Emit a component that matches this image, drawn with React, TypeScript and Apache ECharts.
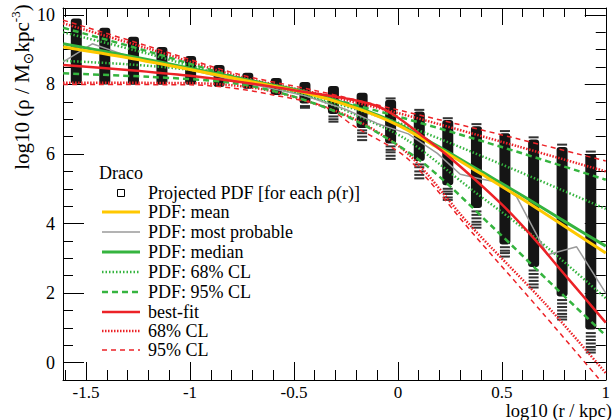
import React, { useEffect, useRef } from 'react';
import * as echarts from 'echarts';

// ---------- data ----------
const columnsX = [-1.547, -1.41, -1.272, -1.135, -0.997, -0.86, -0.722, -0.585, -0.447, -0.31, -0.172, -0.035, 0.103, 0.24, 0.378, 0.515, 0.653, 0.79, 0.928];
const coreTop = [9.9, 9.63, 9.37, 9.08, 8.82, 8.56, 8.34, 8.19, 8.07, 7.96, 7.76, 7.56, 7.22, 6.98, 6.8, 6.6, 6.42, 6.2, 6.0];
const coreBottom = [8.02, 8.0, 7.99, 7.99, 7.99, 7.93, 7.88, 7.7, 7.45, 7.15, 6.75, 6.3, 5.8, 5.1, 4.45, 3.4, 2.75, 1.9, 0.95];
const tailTicks: number[][] = [
  [], [], [], [], [], [], [], [],
  [7.38, 7.33],
  [7.08, 7.0, 6.93],
  [6.68, 6.6, 6.5, 6.4],
  [7.6, 6.22, 6.12, 6.05, 5.95, 5.86],
  [7.27, 5.7, 5.62, 5.5, 5.4, 5.3],
  [7.03, 5.0, 4.92, 4.85, 4.75, 4.68],
  [6.86, 4.35, 4.25, 4.15, 4.05, 3.97, 3.88],
  [6.66, 3.32, 3.22, 3.15, 3.05],
  [6.48, 2.65, 2.55, 2.45, 2.35, 2.25, 2.16],
  [6.27, 1.8, 1.7, 1.6, 1.5, 1.4, 1.32, 1.24],
  [6.07, 0.85, 0.75, 0.65, 0.55, 0.45, 0.37, 0.29],
];

const smoothX = [-1.61, -1.3, -1.0, -0.7, -0.45, -0.2, 0.0, 0.2, 0.4, 0.6, 0.8, 1.0];
const medianY = [9.17, 8.83, 8.47, 8.1, 7.8, 7.35, 6.87, 6.2, 5.5, 4.8, 4.07, 3.35];
const meanY = [9.08, 8.77, 8.43, 8.07, 7.77, 7.32, 6.83, 6.15, 5.43, 4.7, 3.93, 3.15];

const mostProbX = [-1.61, -1.47, -1.28, -1.0, -0.7, -0.45, -0.25, -0.1, 0.05, 0.19, 0.3, 0.4, 0.47, 0.57, 0.67, 0.72, 0.86, 1.0];
const mostProbY = [8.65, 9.17, 8.78, 8.42, 8.0, 7.68, 7.28, 6.88, 6.58, 6.02, 5.42, 5.28, 5.2, 4.78, 3.65, 3.1, 3.33, 2.0];

const bestFitX = [-1.61, -1.3, -1.0, -0.7, -0.4, -0.25, -0.1, 0.0, 0.1, 0.25, 0.5, 0.65, 0.8, 0.9, 1.0];
const bestFitY = [8.56, 8.42, 8.25, 8.02, 7.74, 7.6, 7.38, 7.05, 6.6, 5.9, 4.55, 3.6, 2.55, 1.85, 1.15];

const upperX = [-1.61, -1.2, -0.77, -0.4, 0.0, 0.5, 1.0];
const pdf68UpperY = [9.5, 8.88, 8.15, 7.62, 6.9, 5.7, 4.42];
const pdf95UpperY = [9.63, 8.95, 8.2, 7.7, 7.08, 6.2, 5.26];
const cl68UpperY = [9.76, 9.03, 8.24, 7.76, 7.18, 6.35, 5.5];
const cl95UpperY = [9.85, 9.1, 8.3, 7.83, 7.27, 6.55, 5.8];

const pdf68LowerX = [-1.61, -1.3, -1.0, -0.7, -0.4, -0.2, 0.04, 0.35, 0.67, 1.0];
const pdf68LowerY = [8.68, 8.58, 8.42, 8.1, 7.6, 7.12, 6.42, 5.0, 3.55, 1.85];
const pdf95LowerX = [-1.61, -1.2, -0.8, -0.5, -0.2, 0.12, 0.47, 0.75, 1.0];
const pdf95LowerY = [8.32, 8.22, 8.05, 7.65, 6.95, 5.75, 3.82, 2.2, 0.78];
const cl68LowerX = [-1.61, -1.0, -0.8, -0.6, -0.4, -0.2, 0.05, 0.34, 0.7, 1.0];
const cl68LowerY = [8.05, 8.04, 7.98, 7.8, 7.45, 6.98, 6.0, 4.0, 1.75, -0.3];
const cl95LowerX = [-1.61, -1.0, -0.8, -0.6, -0.35, -0.21, 0.05, 0.36, 0.7, 1.0];
const cl95LowerY = [8.0, 7.99, 7.9, 7.7, 7.36, 6.8, 5.85, 3.72, 1.4, -0.7];

const xMajorTicks = [-1.5, -1, -0.5, 0, 0.5, 1];
const xMinorTicks = [-1.6, -1.4, -1.3, -1.2, -1.1, -0.9, -0.8, -0.7, -0.6, -0.4, -0.3, -0.2, -0.1, 0.1, 0.2, 0.3, 0.4, 0.6, 0.7, 0.8, 0.9];
const yMajorTicks = [0, 2, 4, 6, 8, 10];
const yMinorTicks = [0.5, 1, 1.5, 2.5, 3, 3.5, 4.5, 5, 5.5, 6.5, 7, 7.5, 8.5, 9, 9.5];

const legendTitle = 'Draco';
const legendLabels = [
  'Projected PDF [for each ρ(r)]',
  'PDF: mean',
  'PDF: most probable',
  'PDF: median',
  'PDF: 68% CL',
  'PDF: 95% CL',
  'best-fit',
  '68% CL',
  '95% CL',
];

// ---------- styles ----------
const FONT = '"Liberation Serif", "Times New Roman", Times, serif';
const GREEN = '#35b43f';
const RED = '#ec2227';
const YELLOW = '#ffc800';
const GRAY = '#9a9a9a';

const lineStyles: Record<string, any> = {
  mean: { color: YELLOW, width: 3, type: 'solid' },
  mostProb: { color: GRAY, width: 1.5, type: 'solid' },
  median: { color: GREEN, width: 3, type: 'solid' },
  pdf68: { color: GREEN, width: 2.5, type: [1.5, 2] },
  pdf95: { color: GREEN, width: 2.5, type: [6, 4] },
  best: { color: RED, width: 2.5, type: 'solid' },
  cl68: { color: RED, width: 2.5, type: [1.5, 1.5] },
  cl95: { color: RED, width: 1.5, type: [5, 4] },
};

const X_MIN = -1.611;
const X_MAX = 1.0;
const Y_MIN = -0.5;
const Y_MAX = 10.2;

const pairs = (xs: number[], ys: number[]) => xs.map((x, i) => [x, ys[i]]);

function lineSeries(name: string, xs: number[], ys: number[], styleKey: string, smooth: number | boolean, z: number) {
  const st = lineStyles[styleKey];
  return {
    name,
    type: 'line',
    data: pairs(xs, ys),
    showSymbol: false,
    symbol: 'none',
    smooth,
    z,
    silent: true,
    lineStyle: { color: st.color, width: st.width, type: st.type, cap: 'butt' },
  };
}

function axisCommon(extra: any) {
  return {
    type: 'value',
    splitLine: { show: false },
    ...extra,
  };
}

function buildOption() {
  const tailData: number[][] = [];
  tailTicks.forEach((arr, i) => arr.forEach((y) => tailData.push([columnsX[i], y])));

  const xAxes = [
    axisCommon({
      min: X_MIN, max: X_MAX, position: 'bottom',
      axisLine: { show: true, onZero: false, lineStyle: { color: '#000', width: 1 } },
      axisTick: { show: true, inside: true, length: 18, customValues: xMajorTicks, lineStyle: { color: '#000' } },
      axisLabel: { show: true, customValues: xMajorTicks, fontSize: 17, fontFamily: FONT, color: '#000', margin: 4 },
    }),
    axisCommon({
      min: X_MIN, max: X_MAX, position: 'bottom',
      axisLine: { show: false, onZero: false },
      axisTick: { show: true, inside: true, length: 10, customValues: xMinorTicks, lineStyle: { color: '#000' } },
      axisLabel: { show: false },
    }),
    axisCommon({
      min: X_MIN, max: X_MAX, position: 'top',
      axisLine: { show: true, onZero: false, lineStyle: { color: '#000', width: 1 } },
      axisTick: { show: true, inside: true, length: 17, customValues: xMajorTicks, lineStyle: { color: '#000' } },
      axisLabel: { show: false },
    }),
    axisCommon({
      min: X_MIN, max: X_MAX, position: 'top',
      axisLine: { show: false, onZero: false },
      axisTick: { show: true, inside: true, length: 9, customValues: xMinorTicks, lineStyle: { color: '#000' } },
      axisLabel: { show: false },
    }),
  ];
  const yAxes = [
    axisCommon({
      min: Y_MIN, max: Y_MAX, position: 'left',
      axisLine: { show: true, onZero: false, lineStyle: { color: '#000', width: 1 } },
      axisTick: { show: true, inside: true, length: 21, customValues: yMajorTicks, lineStyle: { color: '#000' } },
      axisLabel: { show: true, customValues: yMajorTicks, fontSize: 18, fontFamily: FONT, color: '#000', margin: 8 },
    }),
    axisCommon({
      min: Y_MIN, max: Y_MAX, position: 'left',
      axisLine: { show: false, onZero: false },
      axisTick: { show: true, inside: true, length: 10, customValues: yMinorTicks, lineStyle: { color: '#000' } },
      axisLabel: { show: false },
    }),
    axisCommon({
      min: Y_MIN, max: Y_MAX, position: 'right',
      axisLine: { show: true, onZero: false, lineStyle: { color: '#000', width: 1 } },
      axisTick: { show: true, inside: true, length: 21, customValues: yMajorTicks, lineStyle: { color: '#000' } },
      axisLabel: { show: false },
    }),
    axisCommon({
      min: Y_MIN, max: Y_MAX, position: 'right',
      axisLine: { show: false, onZero: false },
      axisTick: { show: true, inside: true, length: 10, customValues: yMinorTicks, lineStyle: { color: '#000' } },
      axisLabel: { show: false },
    }),
  ];

  const series: any[] = [
    {
      name: legendLabels[0],
      type: 'custom',
      data: columnsX.map((x, i) => [x, coreTop[i], coreBottom[i]]),
      encode: { x: 0, y: [1, 2] },
      z: 1,
      silent: true,
      renderItem: (_p: any, api: any) => {
        const a = api.coord([api.value(0), api.value(1)]);
        const b = api.coord([api.value(0), api.value(2)]);
        return {
          type: 'rect',
          shape: { x: a[0] - 5.5, y: a[1], width: 11, height: b[1] - a[1], r: 3 },
          style: { fill: '#151515' },
        };
      },
    },
    {
      name: legendLabels[0] + ' ',
      type: 'scatter',
      data: tailData,
      symbol: 'rect',
      symbolSize: [10, 2],
      itemStyle: { color: '#000' },
      z: 1,
      silent: true,
    },
    lineSeries('95% CL', upperX, cl95UpperY, 'cl95', 0.3, 2),
    lineSeries('95% CL', cl95LowerX, cl95LowerY, 'cl95', 0.3, 2),
    lineSeries('68% CL', upperX, cl68UpperY, 'cl68', 0.3, 2),
    lineSeries('68% CL', cl68LowerX, cl68LowerY, 'cl68', 0.3, 2),
    lineSeries('PDF: 95% CL', upperX, pdf95UpperY, 'pdf95', 0.3, 3),
    lineSeries('PDF: 95% CL', pdf95LowerX, pdf95LowerY, 'pdf95', 0.3, 3),
    lineSeries('PDF: 68% CL', upperX, pdf68UpperY, 'pdf68', 0.3, 3),
    lineSeries('PDF: 68% CL', pdf68LowerX, pdf68LowerY, 'pdf68', 0.3, 3),
    lineSeries('PDF: most probable', mostProbX, mostProbY, 'mostProb', false, 4),
    lineSeries('PDF: median', smoothX, medianY, 'median', 0.3, 5),
    lineSeries('PDF: mean', smoothX, meanY, 'mean', 0.3, 6),
    lineSeries('best-fit', bestFitX, bestFitY, 'best', 0.3, 7),
  ];

  // ----- legend drawn as graphic -----
  const rowY = [193, 212, 232, 252, 272, 292, 312, 331, 350];
  const rowStyle = [null, 'mean', 'mostProb', 'median', 'pdf68', 'pdf95', 'best', 'cl68', 'cl95'];
  const graphics: any[] = [];
  graphics.push({
    type: 'text', x: 99, y: 173, z: 100,
    style: { text: legendTitle, fontSize: 18, fontFamily: FONT, fill: '#000', align: 'left', verticalAlign: 'middle' },
  });
  legendLabels.forEach((label, i) => {
    const y = rowY[i];
    const key = rowStyle[i];
    if (key === null) {
      graphics.push({
        type: 'rect', z: 100,
        shape: { x: 117.5, y: y - 3.5, width: 7, height: 7 },
        style: { fill: '#fff', stroke: '#000', lineWidth: 1 },
      });
    } else {
      const st = lineStyles[key];
      graphics.push({
        type: 'line', z: 100,
        shape: { x1: 102, y1: y, x2: 140, y2: y },
        style: { stroke: st.color, lineWidth: st.width, lineDash: Array.isArray(st.type) ? st.type : null, lineCap: 'butt' },
      });
    }
    graphics.push({
      type: 'text', x: 148, y, z: 100,
      style: { text: label, fontSize: 18, fontFamily: FONT, fill: '#000', align: 'left', verticalAlign: 'middle' },
    });
  });
  // axis titles
  graphics.push({
    type: 'text', x: 612, y: 411, z: 100,
    style: { text: 'log10 (r / kpc)', fontSize: 18.5, fontFamily: FONT, fill: '#000', align: 'right', verticalAlign: 'middle' },
  });
  graphics.push({
    type: 'text', x: 22, y: 87, rotation: Math.PI / 2, z: 100,
    style: {
      text: '{a|log10 (ρ / M}{s|⊙}{a|kpc}{p|-3}{a|)}',
      align: 'center',
      verticalAlign: 'middle',
      fill: '#000',
      rich: {
        a: { fontSize: 21, fontFamily: FONT, fill: '#000', lineHeight: 26, verticalAlign: 'middle' },
        s: { fontSize: 14, fontFamily: '"DejaVu Sans", sans-serif', fill: '#000', lineHeight: 26, verticalAlign: 'bottom' },
        p: { fontSize: 13, fontFamily: FONT, fill: '#000', lineHeight: 26, verticalAlign: 'top' },
      },
    },
  });

  return {
    animation: false,
    backgroundColor: '#fff',
    grid: { left: 63, right: 1, top: 8, bottom: 40, containLabel: false },
    xAxis: xAxes,
    yAxis: yAxes,
    series,
    graphic: graphics,
  };
}

export default function App() {
  const ref = useRef<HTMLDivElement>(null);
  useEffect(() => {
    if (!ref.current) return;
    const chart = echarts.init(ref.current, null, { renderer: 'svg' });
    chart.setOption(buildOption() as any);
    return () => chart.dispose();
  }, []);
  return (
    <div
      ref={ref}
      style={{ position: 'fixed', left: 0, top: 0, width: 613, height: 420, background: '#fff' }}
    />
  );
}
